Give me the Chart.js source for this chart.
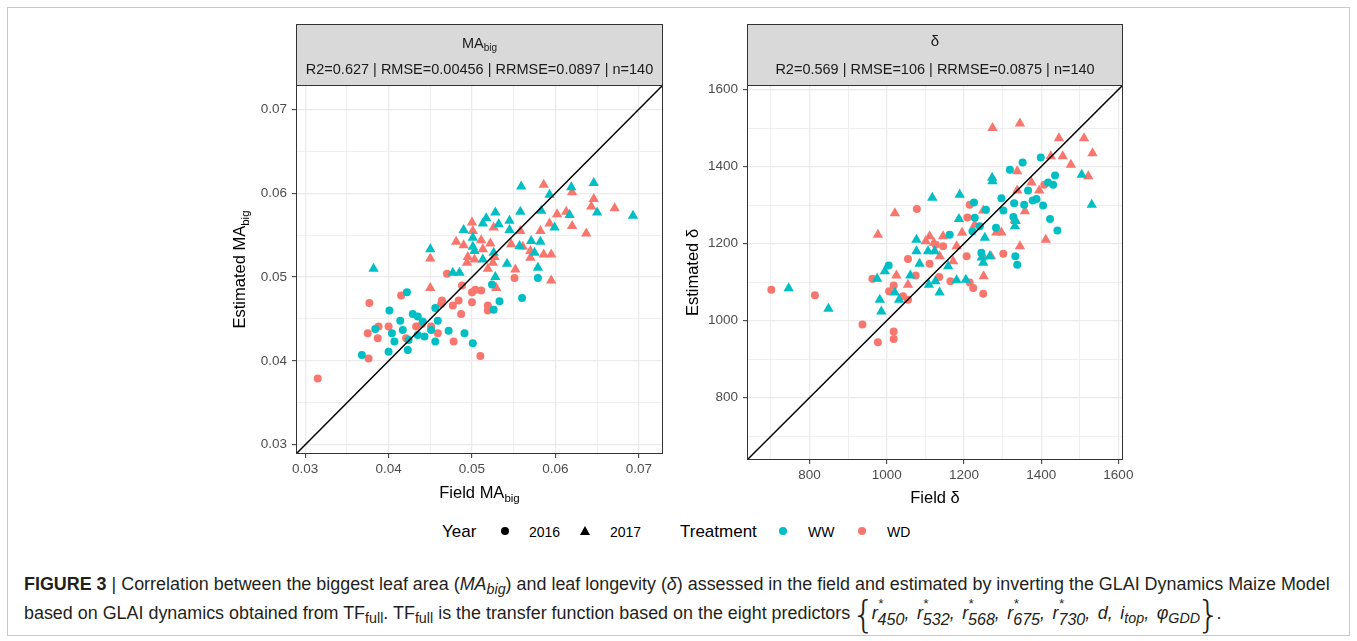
<!DOCTYPE html>
<html><head><meta charset="utf-8">
<script src="https://cdn.jsdelivr.net/npm/chart.js@4.4.0/dist/chart.umd.min.js"></script>
<style>
html,body{margin:0;padding:0;background:#fff;}
body{width:1357px;height:641px;position:relative;overflow:hidden;font-family:'Liberation Sans',Arial,sans-serif;}
#frame{position:absolute;left:7px;top:7px;width:1343px;height:629px;border:1px solid #c8c8c8;box-sizing:border-box;}
canvas{position:absolute;}
#c1{left:200px;top:20px;}
#c2{left:680px;top:20px;}
.lt{position:absolute;white-space:nowrap;color:#000;line-height:1;}
.dot{position:absolute;width:8px;height:8px;border-radius:50%;}
.tri{position:absolute;width:0;height:0;border-left:5.3px solid transparent;border-right:5.3px solid transparent;border-bottom:9px solid #000;}
#cap{position:absolute;left:24px;top:570px;color:#231f20;white-space:nowrap;font-size:15.5px;}
#cap .ln{display:block;height:29px;line-height:29px;}
#cap sub{font-size:0.8em;vertical-align:-0.3em;line-height:0;}
.sp{position:relative;top:-0.85em;font-size:0.75em;margin-right:-0.4em;}
.sb{position:relative;top:0.4em;font-size:0.9em;}
.it{margin-right:0.42em;}
.br{font-family:'DejaVu Sans',sans-serif;font-size:2.1em;vertical-align:-0.22em;font-weight:200;line-height:0;margin:0 -0.1em;}
</style></head>
<body>
<div id="frame"></div>
<canvas id="c1" width="470" height="490"></canvas>
<canvas id="c2" width="460" height="490"></canvas>

<div class="lt" style="left:442px;top:523px;font-size:17px;">Year</div>
<div class="dot" style="left:501px;top:527px;background:#000;"></div>
<div class="lt" style="left:529px;top:525px;font-size:14px;">2016</div>
<div class="tri" style="left:580px;top:526px;"></div>
<div class="lt" style="left:610px;top:525px;font-size:14px;">2017</div>
<div class="lt" style="left:680px;top:523px;font-size:17px;">Treatment</div>
<div class="dot" style="left:779px;top:527px;background:#00BFC4;"></div>
<div class="lt" style="left:808px;top:525px;font-size:14px;">WW</div>
<div class="dot" style="left:858px;top:527px;background:#F8766D;"></div>
<div class="lt" style="left:887px;top:525px;font-size:14px;">WD</div>

<div id="cap">
<span class="ln" id="l1"><b>FIGURE 3</b> | Correlation between the biggest leaf area (<i>MA<sub>big</sub></i>) and leaf longevity (<i>δ</i>) assessed in the field and estimated by inverting the GLAI Dynamics Maize Model</span>
<span class="ln" id="l2">based on GLAI dynamics obtained from TF<sub>full</sub>. TF<sub>full</sub> is the transfer function based on the eight predictors <span class="br">{</span><i class="it">r<span class="sp">*</span><span class="sb">450</span>,</i><i class="it">r<span class="sp">*</span><span class="sb">532</span>,</i><i class="it">r<span class="sp">*</span><span class="sb">568</span>,</i><i class="it">r<span class="sp">*</span><span class="sb">675</span>,</i><i class="it">r<span class="sp">*</span><span class="sb">730</span>,</i><i class="it">d,</i><i class="it">i<sub>top</sub>,</i><i>φ<sub>GDD</sub></i><span class="br">}</span>.</span>
</div>

<script>
// ---------------- DATA ----------------
// Panel 1: MA_big (field x, estimated y)
const maWW2016x = [0.0579,0.0560,0.0524,0.0533,0.0526,0.0422,0.0401,0.0429,0.0435,0.0441,0.0456,0.0459,0.0414,0.0417,0.0404,0.0384,0.0435,0.0443,0.0472,0.0491,0.0456,0.0407,0.0424,0.0423,0.0400,0.0501,0.0451,0.0368];
const maWW2016y = [0.0499,0.0475,0.0491,0.0471,0.0461,0.0482,0.0460,0.0456,0.0453,0.0447,0.0463,0.0448,0.0448,0.0437,0.0433,0.0438,0.0431,0.0429,0.0436,0.0433,0.0423,0.0423,0.0425,0.0413,0.0411,0.0421,0.0437,0.0407];
const maWW2017x = [0.0559,0.0646,0.0619,0.0593,0.0583,0.0558,0.0528,0.0517,0.0513,0.0532,0.0545,0.0545,0.0490,0.0501,0.0650,0.0693,0.0617,0.0599,0.0571,0.0582,0.0557,0.0501,0.0503,0.0450,0.0526,0.0513,0.0542,0.0579,0.0477,0.0485,0.0382,0.0528,0.0575];
const maWW2017y = [0.0608,0.0612,0.0607,0.0598,0.0579,0.0578,0.0577,0.0570,0.0564,0.0563,0.0567,0.0556,0.0556,0.0547,0.0577,0.0573,0.0574,0.0559,0.0543,0.0542,0.0537,0.0536,0.0531,0.0533,0.0529,0.0521,0.0516,0.0511,0.0505,0.0505,0.0510,0.0500,0.0529];
const maWD2016x = [0.0551,0.0470,0.0488,0.0500,0.0504,0.0511,0.0500,0.0484,0.0464,0.0463,0.0477,0.0487,0.0519,0.0519,0.0415,0.0377,0.0388,0.0400,0.0433,0.0440,0.0451,0.0459,0.0421,0.0387,0.0478,0.0510,0.0376,0.0315,0.0375];
const maWD2016y = [0.0499,0.0504,0.0490,0.0482,0.0485,0.0484,0.0470,0.0472,0.0472,0.0468,0.0466,0.0456,0.0466,0.0460,0.0478,0.0469,0.0441,0.0441,0.0441,0.0444,0.0441,0.0433,0.0427,0.0427,0.0423,0.0406,0.0403,0.0379,0.0433];
const maWD2017x = [0.0586,0.0620,0.0646,0.0643,0.0671,0.0613,0.0602,0.0593,0.0620,0.0637,0.0582,0.0558,0.0526,0.0500,0.0501,0.0481,0.0490,0.0511,0.0522,0.0513,0.0547,0.0561,0.0570,0.0570,0.0586,0.0595,0.0495,0.0527,0.0525,0.0494,0.0503,0.0519,0.0552,0.0450,0.0450,0.0529,0.0595];
const maWD2017y = [0.0610,0.0601,0.0593,0.0584,0.0582,0.0578,0.0575,0.0564,0.0561,0.0552,0.0555,0.0555,0.0559,0.0565,0.0555,0.0542,0.0538,0.0544,0.0540,0.0533,0.0539,0.0536,0.0531,0.0523,0.0527,0.0527,0.0524,0.0524,0.0517,0.0517,0.0521,0.0510,0.0509,0.0522,0.0487,0.0487,0.0496];

// Panel 2: delta (field x, estimated y)
const dWW2016x = [1399,1352,1319,1436,1431,1418,1366,1297,1330,1356,1378,1388,1405,1226,1257,1302,1328,1423,1442,1228,1241,1222,1163,1283,1245,1333,1338,1005];
const dWW2016y = [1424,1411,1392,1377,1353,1359,1338,1318,1305,1301,1312,1316,1299,1307,1288,1286,1269,1264,1234,1267,1245,1232,1223,1241,1176,1167,1145,1143];
const dWW2017x = [1505,1531,1273,1274,1118,1189,1187,1334,1332,1254,1077,1077,1107,1124,1085,1159,1246,1267,1250,746,849,975,982,986,1021,1032,1061,1109,1126,1137,1181,1205,995];
const dWW2017y = [1379,1301,1371,1362,1319,1327,1264,1259,1245,1215,1210,1180,1180,1180,1148,1141,1164,1167,1150,1084,1031,1109,1054,1024,1073,1054,1117,1093,1102,1073,1105,1106,1128];
const dWD2016x = [1078,1215,1408,1209,1146,1127,1055,1111,1207,1302,701,814,937,977,1018,1018,963,1006,1018,1055,1075,1042,1136,1165,1215,1224,1250];
const dWD2016y = [1290,1301,1353,1268,1193,1197,1160,1148,1167,1174,1080,1066,990,944,972,952,1109,1076,1091,1054,1117,1063,1113,1102,1099,1085,1070];
const dWD2017x = [1274,1345,1446,1511,1533,1425,1456,1477,1522,1338,1375,1338,1395,1358,1332,1250,1228,1195,1284,1297,1345,1412,1250,1270,1181,1172,1146,1111,1101,1122,1137,1021,977,1055,1025,1251];
const dWD2017y = [1500,1512,1474,1474,1435,1427,1427,1405,1375,1388,1359,1338,1338,1284,1262,1286,1249,1228,1229,1229,1193,1210,1167,1167,1193,1154,1219,1219,1206,1202,1167,1279,1223,1093,1117,1115];

// Axis limits and breaks
const maLimits = [0.0289, 0.0729];
const maMajor = [0.03, 0.04, 0.05, 0.06, 0.07];
const maMinor = [0.035, 0.045, 0.055, 0.065];
const dLimits = [638, 1612];
const dMajor = [800, 1000, 1200, 1400, 1600];
const dMinor = [700, 900, 1100, 1300, 1500];

const statsMA = 'R2=0.627 | RMSE=0.00456 | RRMSE=0.0897 | n=140';
const statsD = 'R2=0.569 | RMSE=106 | RRMSE=0.0875 | n=140';

// ---------------- CHARTS ----------------
const FONT = "'Liberation Sans', Arial, sans-serif";
const TEAL = '#00BFC4', RED = '#F8766D';
Chart.defaults.font.family = FONT;

function pts(xs, ys){ return xs.map((x,i)=>({x:x, y:ys[i]})); }

function partsWidth(ctx, parts){
  let w = 0;
  for (const p of parts){ ctx.font = (p.it?'italic ':'') + p.s + 'px ' + FONT; w += ctx.measureText(p.t).width; }
  return w;
}
function drawParts(ctx, parts, cx, base){
  const w = partsWidth(ctx, parts);
  let x = cx - w/2;
  ctx.textAlign = 'left'; ctx.textBaseline = 'alphabetic';
  for (const p of parts){
    ctx.font = (p.it?'italic ':'') + p.s + 'px ' + FONT;
    ctx.fillText(p.t, x, base + (p.dy||0));
    x += ctx.measureText(p.t).width;
  }
}

const deco = {
  id: 'deco',
  afterDraw(chart, args, o){
    const ctx = chart.ctx, a = chart.chartArea;
    ctx.save();
    ctx.strokeStyle = '#333333'; ctx.lineWidth = 1;
    ctx.strokeRect(a.left + 0.5, a.top + 0.5, a.right - a.left - 1, a.bottom - a.top - 1);
    ctx.fillStyle = '#D9D9D9';
    ctx.fillRect(a.left, o.stripTop, a.right - a.left, a.top - o.stripTop);
    ctx.strokeRect(a.left + 0.5, o.stripTop + 0.5, a.right - a.left - 1, a.top - o.stripTop);
    ctx.fillStyle = '#1A1A1A';
    const cx = (a.left + a.right) / 2;
    drawParts(ctx, o.title, cx, o.titleBase);
    drawParts(ctx, [{t:o.stats, s:14.5}], cx, o.statsBase);
    ctx.fillStyle = '#000';
    drawParts(ctx, o.xTitle, cx, o.xTitleBase);
    ctx.translate(o.yTitleX, (a.top + a.bottom) / 2);
    ctx.rotate(-Math.PI/2);
    drawParts(ctx, o.yTitle, 0, 0);
    ctx.restore();
  }
};

function axis(limits, majors, minors, fmt, isX, size){
  return {
    type: 'linear', min: limits[0], max: limits[1],
    afterBuildTicks(s){ s.ticks = majors.concat(minors).sort((p,q)=>p-q).map(v=>({value:v})); },
    afterFit(s){ if (isX) s.height = size; else s.width = size; },
    ticks: {
      autoSkip: false, maxRotation: 0, minRotation: 0,
      padding: isX ? 3 : 5, color: '#4D4D4D',
      font: {size: 13.5, family: FONT},
      callback: (v) => majors.includes(v) ? fmt(v) : ''
    },
    grid: {
      color: '#EBEBEB',
      lineWidth: (c) => (c.tick && majors.includes(c.tick.value)) ? 1.3 : 0.8,
      drawTicks: true, tickLength: 4, tickWidth: 1,
      tickColor: (c) => (c.tick && majors.includes(c.tick.value)) ? '#333333' : 'rgba(0,0,0,0)'
    },
    border: {display: false}
  };
}

function makeChart(id, d, limits, majors, minors, fmt, yw, xh, rightPad, deco_o){
  return new Chart(document.getElementById(id), {
    type: 'scatter',
    data: { datasets: [
      {type:'line', data:[{x:limits[0],y:limits[0]},{x:limits[1],y:limits[1]}], borderColor:'#000', borderWidth:1.5, pointRadius:0, showLine:true, fill:false},
      {data: pts(d[0], d[1]), pointStyle:'circle', pointRadius:4, backgroundColor:TEAL, borderWidth:0},
      {data: pts(d[2], d[3]), pointStyle:'triangle', pointRadius:6, backgroundColor:TEAL, borderWidth:0},
      {data: pts(d[4], d[5]), pointStyle:'circle', pointRadius:4, backgroundColor:RED, borderWidth:0},
      {data: pts(d[6], d[7]), pointStyle:'triangle', pointRadius:6, backgroundColor:RED, borderWidth:0}
    ]},
    options: {
      responsive: false, animation: false, devicePixelRatio: 1, events: [],
      layout: { padding: {top: 65, right: rightPad, left: 0, bottom: 0} },
      scales: {
        x: axis(limits, majors, minors, fmt, true, xh),
        y: axis(limits, majors, minors, fmt, false, yw)
      },
      plugins: { legend:{display:false}, tooltip:{enabled:false}, deco: deco_o }
    },
    plugins: [deco]
  });
}

makeChart('c1',
  [maWW2016x, maWW2016y, maWW2017x, maWW2017y, maWD2016x, maWD2016y, maWD2017x, maWD2017y],
  maLimits, maMajor, maMinor, v => v.toFixed(2), 96, 56, 7,
  { stripTop: 4, titleBase: 28, statsBase: 54,
    title: [{t:'MA', s:14.5}, {t:'big', s:10, dy:3}],
    stats: statsMA,
    xTitle: [{t:'Field MA', s:16.5}, {t:'big', s:11.5, dy:4}], xTitleBase: 478,
    yTitle: [{t:'Estimated MA', s:16.5}, {t:'big', s:11.5, dy:4}], yTitleX: 45 });

makeChart('c2',
  [dWW2016x, dWW2016y, dWW2017x, dWW2017y, dWD2016x, dWD2016y, dWD2017x, dWD2017y],
  dLimits, dMajor, dMinor, v => String(v), 67, 50, 17,
  { stripTop: 4, titleBase: 26, statsBase: 54,
    title: [{t:'δ', s:15}],
    stats: statsD,
    xTitle: [{t:'Field δ', s:16.5}], xTitleBase: 483,
    yTitle: [{t:'Estimated δ', s:16.5}], yTitleX: 18 });

(function(){
  const cap = document.getElementById('cap');
  const l1 = document.getElementById('l1');
  const w = l1.getBoundingClientRect().width;
  cap.style.fontSize = (15.5 * 1306 / w).toFixed(2) + 'px';
})();
</script>
</body></html>
